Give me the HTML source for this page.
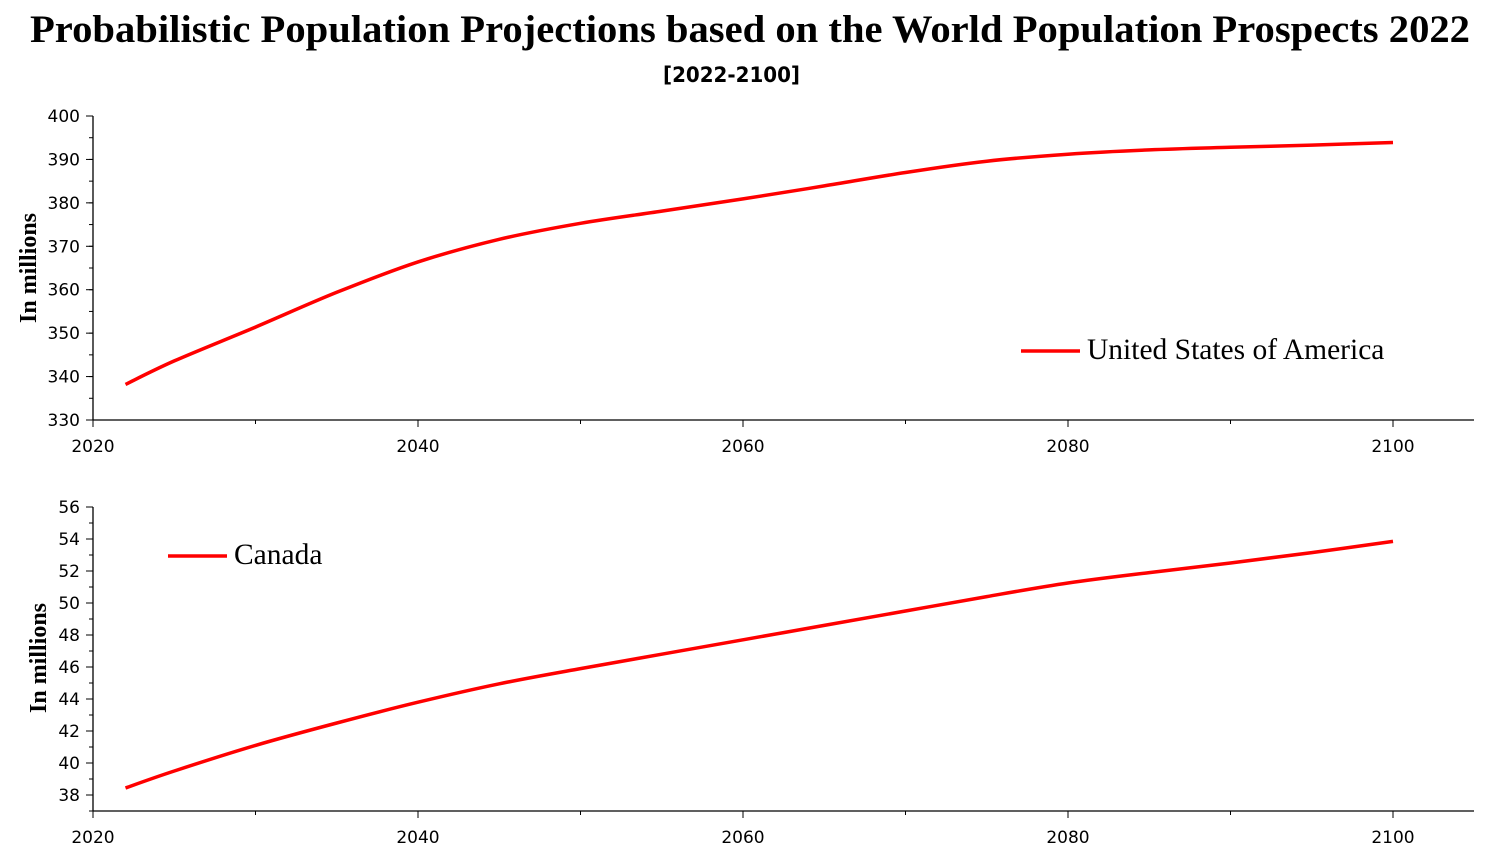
<!DOCTYPE html>
<html><head><meta charset="utf-8"><style>
body{margin:0;background:#fff;width:1506px;height:852px;overflow:hidden}
svg{display:block}
</style></head><body>
<svg id="chart" width="1506" height="852" xmlns="http://www.w3.org/2000/svg">
<text x="30" y="42" textLength="1440" lengthAdjust="spacingAndGlyphs" font-family="Liberation Serif, serif" font-weight="bold" font-size="39">Probabilistic Population Projections based on the World Population Prospects 2022</text>
<text x="663" y="82" textLength="137" lengthAdjust="spacingAndGlyphs" font-family="DejaVu Sans, sans-serif" font-weight="bold" font-size="21">[2022-2100]</text>
</svg>
<script>
const years = [2022,2025,2030,2035,2040,2045,2050,2055,2060,2065,2070,2075,2080,2085,2090,2095,2100];
const usaValues = [338.2,343.6,351.4,359.4,366.4,371.6,375.3,378.1,380.9,383.9,387.0,389.6,391.2,392.2,392.8,393.3,393.9];
const canadaValues = [38.44,39.5,41.1,42.5,43.8,44.95,45.9,46.8,47.7,48.6,49.5,50.4,51.25,51.9,52.5,53.15,53.85];
const xTicks = [2020,2040,2060,2080,2100];
const usaYTicks = [330,340,350,360,370,380,390,400];
const canadaYTicks = [38,40,42,44,46,48,50,52,54,56];

const NS='http://www.w3.org/2000/svg';
const svg=document.getElementById('chart');
function mk(tag,attrs,parent){const e=document.createElementNS(NS,tag);for(const k in attrs)e.setAttribute(k,attrs[k]);(parent||svg).appendChild(e);return e;}

function smoothPath(p){
  let d='M'+p[0][0].toFixed(1)+','+p[0][1].toFixed(1);
  for(let i=0;i<p.length-1;i++){
    const p0=p[i-1]||p[i],p1=p[i],p2=p[i+1],p3=p[i+2]||p2;
    const c1=[p1[0]+(p2[0]-p0[0])/6,p1[1]+(p2[1]-p0[1])/6];
    const c2=[p2[0]-(p3[0]-p1[0])/6,p2[1]-(p3[1]-p1[1])/6];
    d+=' C'+c1.map(v=>v.toFixed(1)).join(',')+' '+c2.map(v=>v.toFixed(1)).join(',')+' '+p2[0].toFixed(1)+','+p2[1].toFixed(1);
  }
  return d;
}

function panel(cfg){
  const g=mk('g',{});
  
  
  const X=v=>93+(v-2020)*(1300/80);
  const Y=v=>cfg.bottom-(v-cfg.ymin)*cfg.scale;
  const yTop=Y(cfg.ymax);
  const ax=mk('line',{x1:93,y1:yTop,x2:93,y2:cfg.bottom,stroke:'#000','stroke-width':1.3},g);
  
  
  const xa=mk('line',{x1:93,y1:cfg.bottom,x2:1474,y2:cfg.bottom,stroke:'#000','stroke-width':1.3},g);
  
  
  for(let v=cfg.ymin+ (cfg.firstMinor); v<=cfg.ymax+1e-9; v+=cfg.minor){
    mk('line',{x1:89,y1:Y(v),x2:93,y2:Y(v),stroke:'#000','stroke-width':1},g);
  }
  cfg.yTicks.forEach(v=>{
    mk('line',{x1:86,y1:Y(v),x2:93,y2:Y(v),stroke:'#000','stroke-width':1},g);
    const t=mk('text',{x:80,y:Y(v)+6,'text-anchor':'end','font-family':'DejaVu Sans, sans-serif','font-size':17},g);
    t.textContent=v;
    
    
  });
  for(let yr=2030; yr<=2110; yr+=20){ if(X(yr)<1474) mk('line',{x1:X(yr),y1:cfg.bottom,x2:X(yr),y2:cfg.bottom+4,stroke:'#000'},g); }
  xTicks.forEach(v=>{
    mk('line',{x1:X(v),y1:cfg.bottom,x2:X(v),y2:cfg.bottom+7,stroke:'#000'},g);
    const t=mk('text',{x:X(v),y:cfg.bottom+32,'text-anchor':'middle','font-family':'DejaVu Sans, sans-serif','font-size':17},g);
    t.textContent=v;
    
    
  });
  const yt=mk('text',{transform:`translate(${cfg.titleX},${cfg.titleY}) rotate(-90)`,'text-anchor':'middle','font-family':'Liberation Serif, serif','font-weight':'bold','font-size':24},g);
  yt.textContent='In millions';
  
  
  const pts=years.map((yr,i)=>[X(yr),Y(cfg.values[i])]);
  const pl=mk('path',{d:smoothPath(pts),fill:'none',stroke:'#ff0000','stroke-width':3.5,'stroke-linejoin':'round'},g);
  
  
  const lg=mk('g',{},g);
  
  
  mk('line',{x1:cfg.lx,y1:cfg.ly,x2:cfg.lx+59,y2:cfg.ly,stroke:'#ff0000','stroke-width':3.5},lg);
  const lt=mk('text',{x:cfg.lx+66,y:cfg.ly+8,'font-family':'Liberation Serif, serif','font-size':29.5},lg);
  lt.textContent=cfg.label;
}
panel({name:'usa-panel',seriesName:'usa-line',values:usaValues,yTicks:usaYTicks,ymin:330,ymax:400,bottom:420,scale:304/70,minor:5,firstMinor:5,titleX:36,titleY:268,lx:1021,ly:351,label:'United States of America'});
panel({name:'canada-panel',seriesName:'canada-line',values:canadaValues,yTicks:canadaYTicks,ymin:37,ymax:56,bottom:811,scale:16,minor:1,firstMinor:0,titleX:46,titleY:658,lx:168,ly:556,label:'Canada'});
</script>
</body></html>
